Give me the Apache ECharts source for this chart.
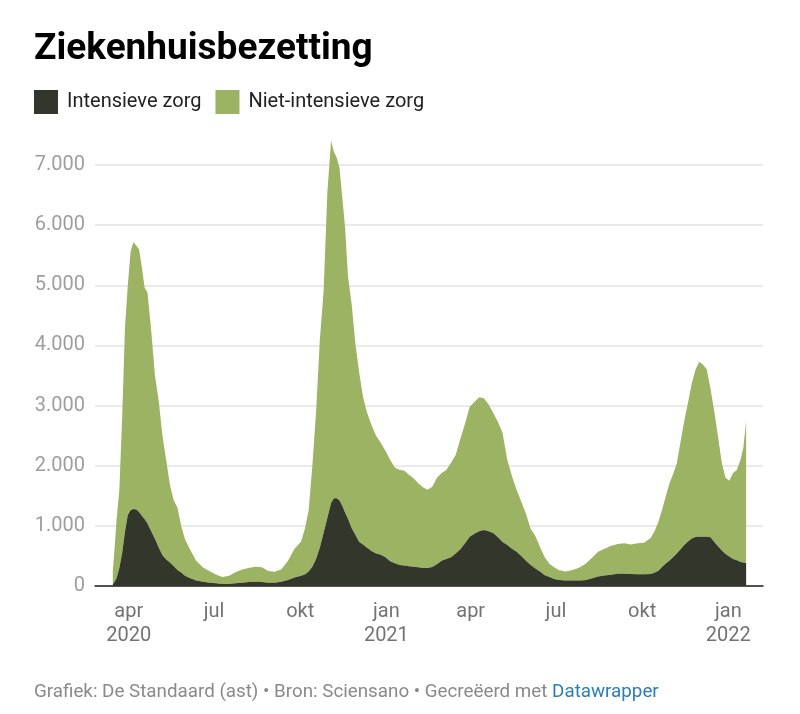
<!DOCTYPE html>
<html>
<head>
<meta charset="utf-8">
<script src="https://cdn.jsdelivr.net/npm/echarts@6/dist/echarts.min.js"></script>
<style>
  html, body { margin: 0; padding: 0; background: #fff; }
  #chart { width: 800px; height: 714px; }
</style>
</head>
<body>
<div id="chart"></div>
<script>
// datums (ongeveer elke 3 tot 7 dagen)
const dates = [
  '2020-03-15', '2020-03-17', '2020-03-19', '2020-03-22', '2020-03-25', '2020-03-28', '2020-03-31',
  '2020-04-03', '2020-04-06', '2020-04-09', '2020-04-12', '2020-04-15', '2020-04-18', '2020-04-21',
  '2020-04-25', '2020-04-29', '2020-05-03', '2020-05-07', '2020-05-11', '2020-05-15', '2020-05-19',
  '2020-05-23', '2020-05-27', '2020-05-31', '2020-06-05', '2020-06-12', '2020-06-19', '2020-06-26',
  '2020-07-03', '2020-07-10', '2020-07-17', '2020-07-24', '2020-07-31', '2020-08-07', '2020-08-14',
  '2020-08-21', '2020-08-28', '2020-09-04', '2020-09-11', '2020-09-18', '2020-09-25', '2020-10-02',
  '2020-10-06', '2020-10-10', '2020-10-14', '2020-10-18', '2020-10-22', '2020-10-26', '2020-10-30',
  '2020-11-03', '2020-11-06', '2020-11-09', '2020-11-12', '2020-11-15', '2020-11-18', '2020-11-21',
  '2020-11-25', '2020-11-29', '2020-12-03', '2020-12-07', '2020-12-11', '2020-12-16', '2020-12-21',
  '2020-12-26', '2020-12-31', '2021-01-05', '2021-01-10', '2021-01-15', '2021-01-20', '2021-01-25',
  '2021-01-30', '2021-02-04', '2021-02-09', '2021-02-14', '2021-02-19', '2021-02-24', '2021-03-01',
  '2021-03-06', '2021-03-11', '2021-03-16', '2021-03-21', '2021-03-26', '2021-03-31', '2021-04-05',
  '2021-04-10', '2021-04-15', '2021-04-20', '2021-04-25', '2021-04-30', '2021-05-05', '2021-05-10',
  '2021-05-15', '2021-05-20', '2021-05-25', '2021-05-30', '2021-06-04', '2021-06-09', '2021-06-14',
  '2021-06-19', '2021-06-24', '2021-06-29', '2021-07-04', '2021-07-11', '2021-07-18', '2021-07-25',
  '2021-08-01', '2021-08-08', '2021-08-15', '2021-08-22', '2021-08-29', '2021-09-05', '2021-09-12',
  '2021-09-19', '2021-09-26', '2021-10-03', '2021-10-10', '2021-10-14', '2021-10-18', '2021-10-22',
  '2021-10-26', '2021-10-30', '2021-11-03', '2021-11-07', '2021-11-11', '2021-11-15', '2021-11-19',
  '2021-11-23', '2021-11-27', '2021-12-01', '2021-12-05', '2021-12-09', '2021-12-13', '2021-12-17',
  '2021-12-21', '2021-12-25', '2021-12-29', '2022-01-02', '2022-01-06', '2022-01-10', '2022-01-14',
  '2022-01-17', '2022-01-20'
];

// Intensieve zorg
const intensief = [
  30, 70, 130, 300, 550, 900, 1180,
  1260, 1280, 1270, 1230, 1170, 1110, 1040,
  910, 780, 640, 510, 440, 390, 330,
  265, 225, 170, 135, 90, 70, 55,
  45, 35, 35, 45, 55, 65, 70,
  65, 55, 55, 70, 100, 140, 170,
  190, 240, 320, 450, 640, 880, 1130,
  1380, 1460, 1460, 1420, 1330, 1220, 1120,
  960, 850, 730, 690, 640, 580, 540,
  520, 480, 410, 380, 350, 340, 330,
  320, 310, 300, 300, 315, 360, 420,
  450, 480, 540, 610, 710, 820, 870,
  910, 930, 910, 880, 810, 730, 680,
  620, 570, 500, 420, 350, 290, 240,
  180, 150, 115, 100, 90, 90, 90,
  95, 125, 160, 175, 185, 205, 205,
  200, 195, 195, 200, 220, 250, 310,
  370, 420, 480, 540, 610, 680, 740,
  790, 815, 820, 820, 820, 810, 730,
  660, 590, 530, 490, 450, 430, 400,
  390, 380
];

// Niet-intensieve zorg
const nietIntensief = [
  220, 580, 970, 1300, 2250, 3400, 3820,
  4300, 4440, 4390, 4370, 4130, 3850, 3840,
  3340, 2720, 2440, 1990, 1650, 1290, 1100,
  1035, 775, 610, 485, 330, 240, 195,
  145, 115, 135, 185, 220, 235, 250,
  245, 195, 180, 210, 320, 480, 570,
  760, 1010, 1680, 2450, 3460, 4020, 5420,
  6020, 5760, 5660, 5530, 5120, 4730, 4030,
  3720, 3170, 2820, 2460, 2260, 2100, 1960,
  1860, 1770, 1690, 1590, 1580, 1580, 1520,
  1470, 1400, 1340, 1300, 1335, 1440, 1460,
  1480, 1570, 1640, 1840, 1990, 2160, 2190,
  2230, 2190, 2110, 2000, 1920, 1820, 1420,
  1210, 1030, 900, 780, 600, 540, 410,
  300, 220, 195, 165, 150, 170, 210,
  265, 335, 410, 445, 485, 495, 505,
  490, 515, 525, 600, 680, 800, 940,
  1110, 1280, 1380, 1500, 1790, 2070, 2310,
  2580, 2785, 2910, 2860, 2780, 2470, 2170,
  1820, 1460, 1270, 1260, 1430, 1500, 1700,
  1910, 2350
];

// x-as labels
const xTickDates = ['2020-04-01', '2020-07-01', '2020-10-01', '2021-01-01', '2021-04-01', '2021-07-01', '2021-10-01', '2022-01-01'];
const xTickLabels = ['apr\n2020', 'jul', 'okt', 'jan\n2021', 'apr', 'jul', 'okt', 'jan\n2022'];

const yTicks = [0, 1000, 2000, 3000, 4000, 5000, 6000, 7000];

const DONKER = '#33362b';
const GROEN = '#9cb364';

const X_MIN = '2020-02-25';
const X_MAX = '2022-02-07';

function toTime(s) {
  const p = s.split('-');
  return new Date(+p[0], +p[1] - 1, +p[2]).getTime();
}

function fmtNum(v) {
  return String(v).replace(/\B(?=(\d{3})+(?!\d))/g, '.');
}

const tickTimes = xTickDates.map(toTime);

const chart = echarts.init(document.getElementById('chart'), null, { renderer: 'canvas' });

const option = {
  animation: false,
  backgroundColor: '#fff',
  textStyle: { fontFamily: 'Roboto' },
  title: {
    text: 'Ziekenhuisbezetting',
    left: 34,
    top: 31,
    padding: 0,
    textStyle: { fontSize: 37, fontWeight: 'bold', color: '#000', fontFamily: 'Roboto' }
  },
  legend: {
    left: 34,
    top: 90,
    padding: 0,
    itemWidth: 24,
    itemHeight: 24,
    itemGap: 14,
    icon: 'rect',
    textStyle: { fontSize: 20, color: '#222', fontFamily: 'Roboto', padding: [0, 0, 0, 4] },
    data: ['Intensieve zorg', 'Niet-intensieve zorg']
  },
  grid: { left: 95, right: 37, top: 165, bottom: 128, containLabel: false },
  xAxis: [
    {
      // tijd-as voor de data (zorgt voor correct stapelen)
      type: 'time',
      show: false,
      min: toTime(X_MIN),
      max: toTime(X_MAX)
    },
    {
      // zichtbare as met de kwartaallabels
      type: 'value',
      position: 'bottom',
      min: toTime(X_MIN),
      max: toTime(X_MAX),
      axisLine: { show: true, onZero: false, lineStyle: { color: '#222', width: 1.5 } },
      axisTick: { show: false },
      splitLine: { show: false },
      axisLabel: {
        customValues: tickTimes,
        margin: 14,
        fontSize: 20,
        lineHeight: 24,
        color: '#737373',
        fontFamily: 'Roboto',
        align: 'center',
        formatter: function (v) {
          const i = tickTimes.indexOf(v);
          return i >= 0 ? xTickLabels[i] : '';
        }
      }
    }
  ],
  yAxis: {
    type: 'value',
    min: 0,
    max: yTicks[yTicks.length - 1],
    interval: 1000,
    axisLine: { show: false },
    axisTick: { show: false },
    splitLine: { show: true, lineStyle: { color: '#e3e3e3', width: 1.5 } },
    axisLabel: {
      margin: 10,
      fontSize: 20,
      color: '#9e9e9e',
      fontFamily: 'Roboto',
      formatter: function (v) { return fmtNum(v); }
    }
  },
  series: [
    {
      name: 'Intensieve zorg',
      type: 'line',
      xAxisIndex: 0,
      stack: 'bezetting',
      clip: false,
      showSymbol: false,
      symbol: 'none',
      color: DONKER,
      lineStyle: { width: 0 },
      areaStyle: { color: DONKER, opacity: 1 },
      z: 3,
      data: dates.map((d, i) => [d, intensief[i]])
    },
    {
      name: 'Niet-intensieve zorg',
      type: 'line',
      xAxisIndex: 0,
      stack: 'bezetting',
      clip: false,
      showSymbol: false,
      symbol: 'none',
      color: GROEN,
      lineStyle: { width: 0 },
      areaStyle: { color: GROEN, opacity: 1 },
      z: 2,
      data: dates.map((d, i) => [d, nietIntensief[i]])
    }
  ],
  graphic: [
    {
      type: 'text',
      left: 34,
      top: 683,
      style: {
        text: '{g|Grafiek: De Standaard (ast) • Bron: Sciensano • Gecreëerd met }{b|Datawrapper}',
        rich: {
          g: { fontSize: 18.8, fill: '#8a8a8a', fontFamily: 'Roboto' },
          b: { fontSize: 18.8, fill: '#2b7dbc', fontFamily: 'Roboto' }
        }
      }
    }
  ]
};

chart.setOption(option);
</script>
</body>
</html>
